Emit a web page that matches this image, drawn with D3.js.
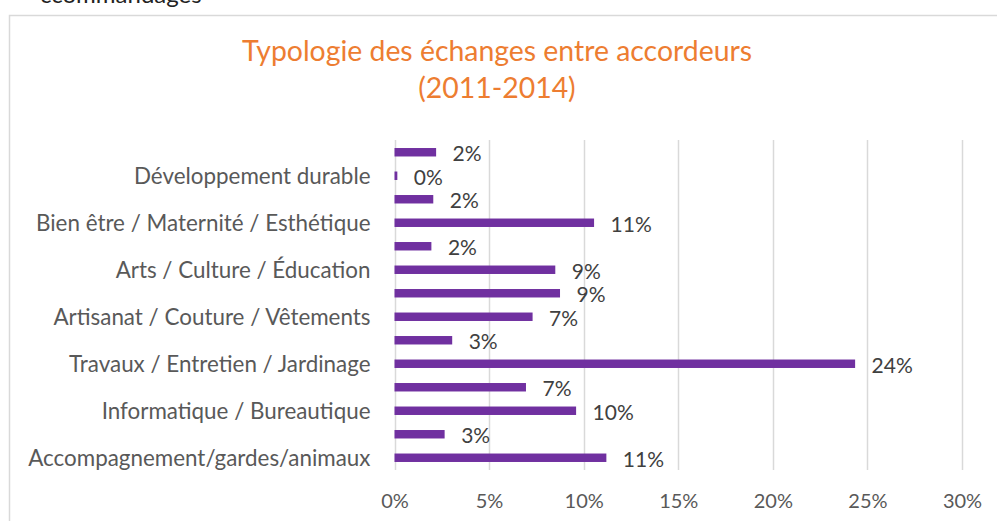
<!DOCTYPE html>
<html><head><meta charset="utf-8">
<script src="https://cdn.jsdelivr.net/npm/d3@7"></script>
<style>html,body{margin:0;padding:0;background:#fff;overflow:hidden}</style>
</head><body>
<svg id="chart" width="997" height="521"></svg>
<script>
// Data (top to bottom as drawn)
const categories = ["", "Développement durable", "", "Bien être / Maternité / Esthétique", "", "Arts / Culture / Éducation", "", "Artisanat / Couture / Vêtements", "", "Travaux / Entretien / Jardinage", "", "Informatique / Bureautique", "", "Accompagnement/gardes/animaux"];
const values = [2.2, 0.15, 2.05, 10.55, 1.95, 8.5, 8.75, 7.3, 3.05, 24.35, 6.95, 9.6, 2.65, 11.2];
const tickValues = [0, 5, 10, 15, 20, 25, 30];
const titleLines = ["Typologie des échanges entre accordeurs", "(2011-2014)"];

const svg = d3.select("#chart");
const font = "Lato, 'Open Sans', sans-serif";

// cut-off text from the page above the chart
svg.append("text").attr("x", 40).attr("y", 3).attr("font-family", font)
  .attr("font-size", 24).attr("fill", "#222").text("ccommandages");

// chart frame
svg.append("rect").attr("x", 9.5).attr("y", 15.5).attr("width", 1000).attr("height", 520)
  .attr("fill", "#fff").attr("stroke", "#d9d9d9").attr("stroke-width", 1.5);

const x = d3.scaleLinear().domain([0, 30]).range([394.5, 962]);
const y = d3.scaleBand().domain(d3.range(categories.length)).range([140.5, 469.5]).paddingInner(0.64).paddingOuter(0.32);

// title
svg.append("g").selectAll("text").data(titleLines).join("text")
  .attr("x", 497).attr("y", (d, i) => 61 + i * 37)
  .attr("text-anchor", "middle").attr("font-family", font).attr("font-size", 28.4)
  .attr("fill", "#ED7D31").text(d => d);

// gridlines
svg.append("g").selectAll("line").data(tickValues).join("line")
  .attr("x1", d => Math.round(x(d)) + 0.5).attr("x2", d => Math.round(x(d)) + 0.5)
  .attr("y1", 140).attr("y2", 470)
  .attr("stroke", "#d9d9d9").attr("stroke-width", 1.5);

// x axis labels
const xAxis = d3.axisBottom(x).tickValues(tickValues).tickFormat(d => d + "%").tickSize(0).tickPadding(0);
const gx = svg.append("g").attr("transform", "translate(0,508)").call(xAxis);
gx.select(".domain").remove();
gx.selectAll("text").attr("font-family", font).attr("font-size", 20).attr("fill", "#595959").attr("dy", "0");

// y axis labels
const yAxis = d3.axisLeft(y).tickFormat(i => categories[i]).tickSize(0).tickPadding(24);
const gy = svg.append("g").attr("transform", `translate(${x(0)},0)`).call(yAxis);
gy.select(".domain").remove();
gy.selectAll("text").attr("font-family", font).attr("font-size", 22.4).attr("fill", "#595959").attr("dy", "0.36em");

// bars
svg.append("g").selectAll("rect").data(values).join("rect")
  .attr("x", x(0)).attr("y", (d, i) => y(i))
  .attr("width", d => x(d) - x(0)).attr("height", y.bandwidth())
  .attr("fill", "#7030A0");

// data labels
svg.append("g").selectAll("text").data(values).join("text")
  .attr("x", d => x(d) + 16.5).attr("y", (d, i) => y(i) + y.bandwidth() / 2 + 1.5)
  .attr("dy", "0.36em").attr("font-family", font).attr("font-size", 21).attr("fill", "#404040")
  .text(d => Math.round(d) + "%");
</script>
</body></html>
